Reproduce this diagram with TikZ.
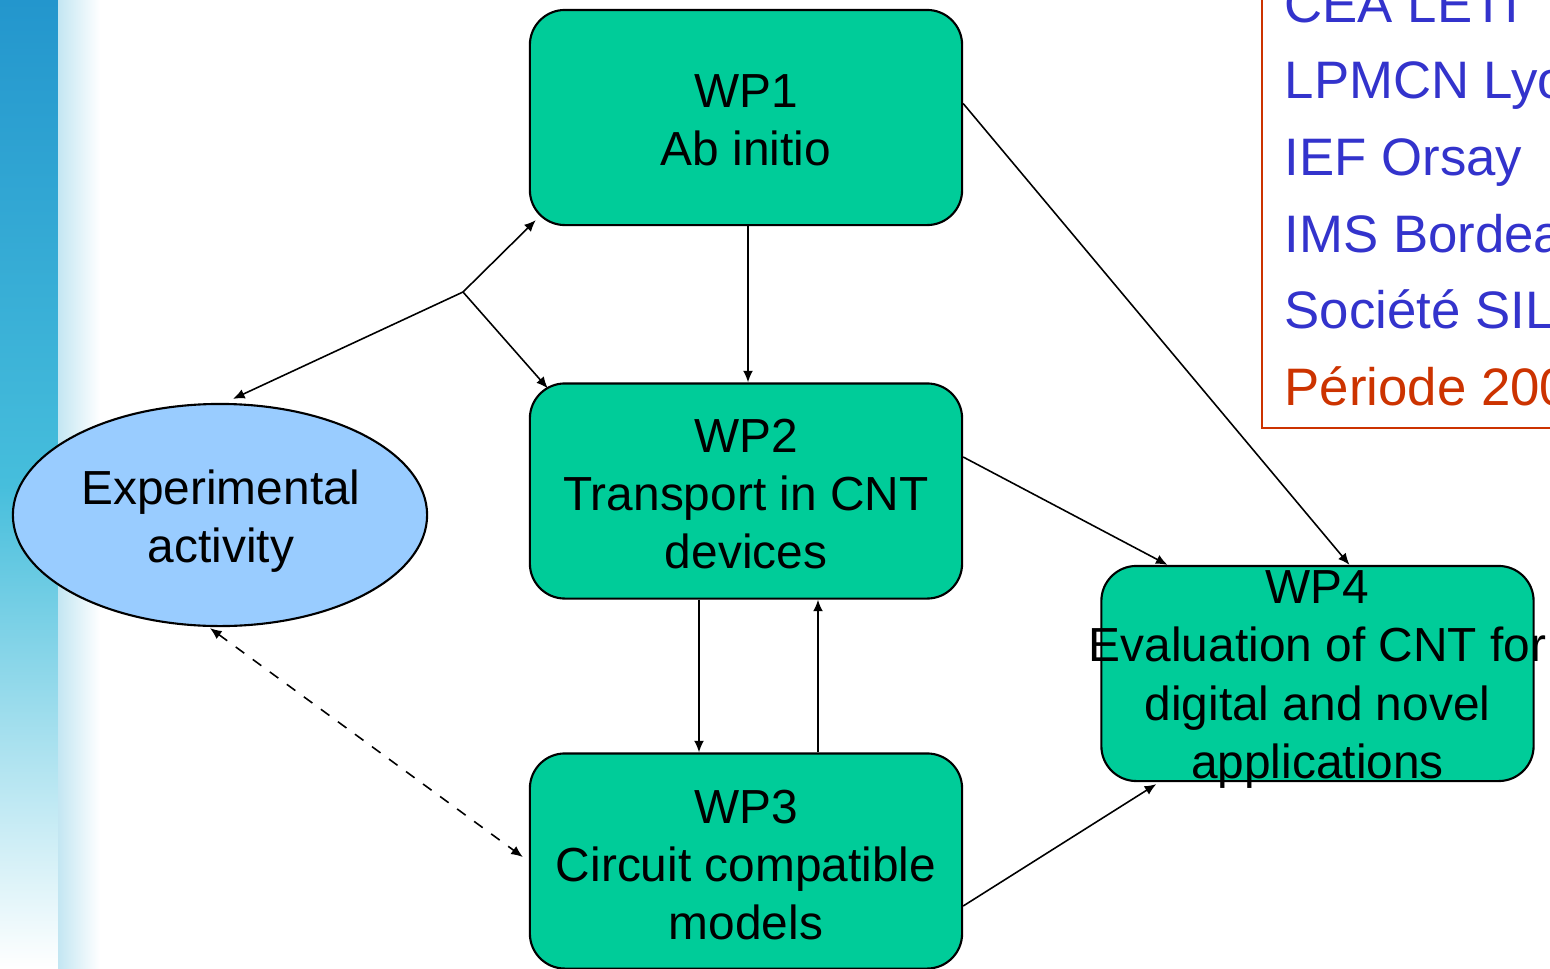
\documentclass[tikz,border=0pt]{standalone}
\usepackage{fontspec}
\setmainfont{Liberation Sans}
\usetikzlibrary{arrows.meta,calc,shapes.geometric}
\definecolor{wpgreen}{RGB}{0,204,153}
\definecolor{expblue}{RGB}{153,204,255}
\definecolor{txtblue}{RGB}{51,51,204}
\definecolor{txtred}{RGB}{204,51,0}
\definecolor{stripA}{RGB}{35,150,205}
\definecolor{stripB}{RGB}{70,190,220}
\definecolor{stripC}{RGB}{195,230,242}
\tikzset{
  wpbox/.style={draw=black, line width=0.6pt, fill=wpgreen, rounded corners=0.35cm,
    minimum width=4.32cm, minimum height=2.15cm, inner sep=0pt},
  boxtext/.style={align=center, inner sep=0pt, font=\fontsize{13.6}{16.5}\selectfont},
  conn/.style={draw=black, line width=0.45pt, -{Latex[length=3.3pt,width=2.8pt]}},
  connboth/.style={conn, {Latex[length=3.3pt,width=2.8pt]}-{Latex[length=3.3pt,width=2.8pt]}},
  partner/.style={anchor=base west, inner sep=0pt, font=\fontsize{15}{18}\selectfont, text=txtblue}
}
\begin{document}
\begin{tikzpicture}[x=0.01cm,y=-0.01cm]
\useasboundingbox (0,0) rectangle (1550,969);
\clip (0,0) rectangle (1550,969);
\fill[white] (0,0) rectangle (1550,969);
% left decorative strip
\shade[top color=stripA, bottom color=white, middle color=stripB] (0,0) rectangle (58,969);
\shade[left color=stripC, right color=white] (58,0) rectangle (100,969);

% partner box
\draw[txtred, line width=0.6pt] (1262,-20) -- (1262,428) -- (1560,428);
\node[partner] (p0) at (1284,22) {CEA LETI};
\node[partner] (p1) at (1284,98) {LPMCN Lyon};
\node[partner] (p2) at (1284,175) {IEF Orsay};
\node[partner] (p3) at (1284,252) {IMS Bordeaux};
\node[partner] (p4) at (1284,328) {Société SILVACO};
\node[partner, text=txtred] (p5) at (1284,405) {Période 2006};

% nodes
\node[wpbox] (wp1) at (746,117.5) {};
\node[boxtext] at ($(wp1.center)+(0,3)$) {WP1\\Ab initio};
\node[wpbox] (wp2) at (746,491) {};
\node[boxtext] at ($(wp2.center)+(0,3)$) {WP2\\Transport in CNT\\devices};
\node[wpbox] (wp3) at (746,861) {};
\node[boxtext] at ($(wp3.center)+(0,4)$) {WP3\\Circuit compatible\\models};
\node[wpbox] (wp4) at (1317.5,673.5) {};
\node[boxtext] at ($(wp4.center)+(0,6)$) {WP4\\Evaluation of CNT for\\digital and novel\\applications};
\node[ellipse, draw=black, line width=0.6pt, fill=expblue, minimum width=4.14cm, minimum height=2.22cm, inner sep=0pt] (exp) at (220,515) {};
\node[boxtext] at ($(exp.center)+(1,6)$) {Experimental\\activity};

% connectors
\coordinate (j) at (463,292);
\draw[conn] (j) -- ($(exp.north)+(13,-4)$);
\draw[conn] (j) -- ($(wp1.south west)+(7,-6)$);
\draw[conn] (j) -- ($(wp2.north west)+(19,6)$);
\draw[conn] ($(wp1.south)+(2,0)$) -- ($(wp2.north)+(2,0)$);
\draw[conn] ($(wp2.south)+(-47,0)$) -- ($(wp3.north)+(-47,0)$);
\draw[conn] ($(wp3.north)+(72,0)$) -- ($(wp2.south)+(72,0)$);
\draw[conn] ($(wp1.east)+(0,-14)$) -- ($(wp4.north)+(32,0)$);
\draw[conn] ($(wp2.east)+(0,-34)$) -- ($(wp4.north)+(-150,0)$);
\draw[conn] ($(wp3.east)+(0,45)$) -- ($(wp4.south west)+(56,2)$);
\draw[connboth, dashed] ($(exp.south)+(-10,1)$) -- ($(wp3.west)+(-6,-4)$);
\end{tikzpicture}
\end{document}
